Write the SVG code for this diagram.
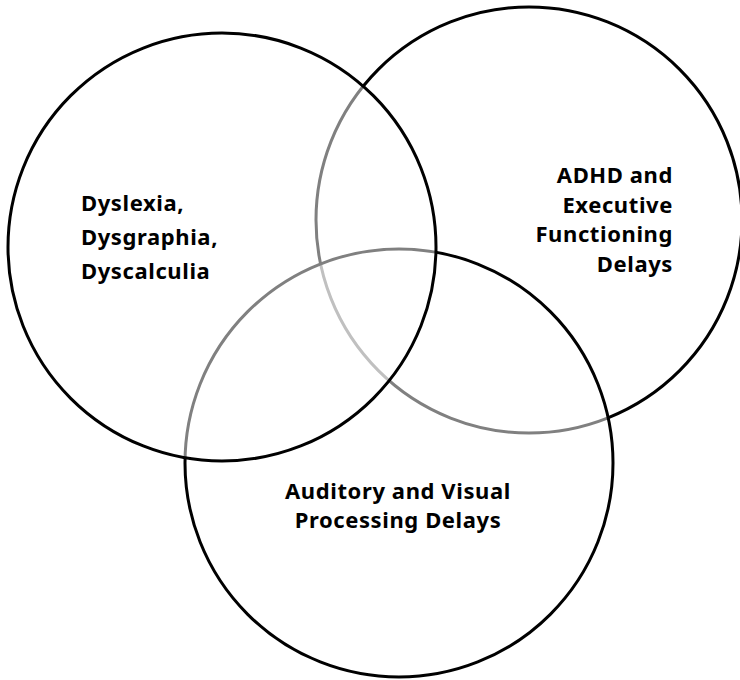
<svg xmlns="http://www.w3.org/2000/svg" width="740" height="680" viewBox="0 0 740 680">
<style>
.c{fill:#ffffff;fill-opacity:0.5;stroke:#000;stroke-width:3}
.t{font-family:"Noto Sans","Open Sans","DejaVu Sans",sans-serif;font-weight:bold;font-size:22px;letter-spacing:0.6px;fill:#000}
</style>
<rect width="740" height="680" fill="#fff"/>
<g id="circle-right"><circle class="c" cx="529" cy="220" r="213"/></g>
<g id="circle-bottom"><circle class="c" cx="399" cy="463" r="214"/></g>
<g id="circle-left"><circle class="c" cx="222" cy="247" r="214"/></g>
<g id="label-left" class="t">
<text x="81" y="211">Dyslexia,</text>
<text x="81" y="245">Dysgraphia,</text>
<text x="81" y="279">Dyscalculia</text>
</g>
<g id="label-right" class="t" text-anchor="end">
<text x="673" y="183">ADHD and</text>
<text x="673" y="213">Executive</text>
<text x="673" y="242">Functioning</text>
<text x="673" y="272">Delays</text>
</g>
<g id="label-bottom" class="t" text-anchor="middle">
<text x="398" y="499">Auditory and Visual</text>
<text x="398" y="528">Processing Delays</text>
</g>
<g id="connectors"/>
</svg>
